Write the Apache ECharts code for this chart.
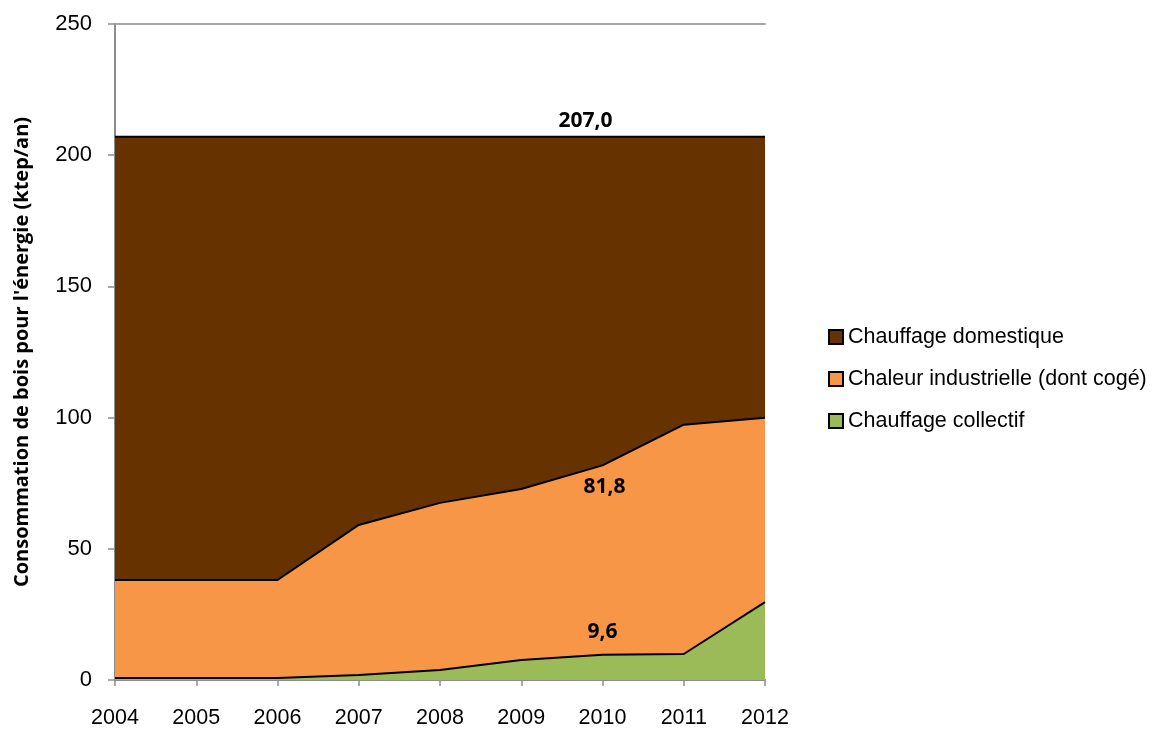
<!DOCTYPE html>
<html>
<head>
<meta charset="utf-8">
<script src="https://cdn.jsdelivr.net/npm/echarts@6/dist/echarts.min.js"></script>
<style>html,body{margin:0;padding:0;background:#fff}#c{width:1158px;height:729px}</style>
</head>
<body>
<div id="c"></div>
<script>
const years = ['2004','2005','2006','2007','2008','2009','2010','2011','2012'];
const collectif = [0.8, 0.8, 0.8, 1.9, 3.8, 7.6, 9.6, 9.9, 29.7];
const industrielle = [37.3, 37.3, 37.3, 57.2, 63.7, 65.2, 72.2, 87.4, 70.2];
const domestique = [168.9, 168.9, 168.9, 147.9, 139.5, 134.2, 125.2, 109.7, 107.1];
const names = ['Chauffage collectif', 'Chaleur industrielle (dont cogé)', 'Chauffage domestique'];
const labelIndex = 6;
const labelTexts = ['9,6', '81,8', '207,0'];
const colors = ['#9BBB59', '#F79646', '#663300'];
const yTicks = [0, 50, 100, 150, 200, 250];

const chart = echarts.init(document.getElementById('c'));
const labelCfg = [
  {position: 'top', distance: 12, offset: [0, 0]},
  {position: 'bottom', distance: 11, offset: [2, 0]},
  {position: 'top', distance: 5, offset: [-17, 0]}
];
function mk(vals, i) {
  return {
    name: names[i],
    type: 'line',
    stack: 'total',
    data: vals.map((v, j) => j === labelIndex ? {
      value: v,
      label: Object.assign({
        show: true, formatter: labelTexts[i],
        fontFamily: 'Open Sans', fontWeight: 'bold', fontSize: 21, color: '#000'
      }, labelCfg[i])
    } : v),
    showSymbol: true,
    symbol: 'circle',
    symbolSize: 0,
    lineStyle: {color: '#000', width: 2},
    itemStyle: {color: colors[i], borderColor: '#000', borderWidth: 1},
    areaStyle: {color: colors[i], opacity: 1},
    z: 6 - i,
    animation: false
  };
}
chart.setOption({
  animation: false,
  textStyle: {fontFamily: 'Liberation Sans'},
  grid: {left: 115, right: 393, top: 24, bottom: 49},
  legend: {
    orient: 'vertical',
    left: 823, top: 321,
    itemGap: 20,
    itemWidth: 14, itemHeight: 14,
    icon: 'rect',
    data: [names[2], names[1], names[0]],
    textStyle: {fontSize: 21.5, color: '#000', fontFamily: 'Liberation Sans', padding: [0, 0, 0, 0]}
  },
  xAxis: [{
    type: 'category',
    data: years,
    boundaryGap: false,
    axisLine: {lineStyle: {color: '#8c8c8c', width: 2}},
    axisTick: {show: true, length: 6, lineStyle: {color: '#8c8c8c', width: 1.5}},
    axisLabel: {fontSize: 21.5, color: '#000', margin: 27, fontFamily: 'Liberation Sans'},
    splitLine: {show: false}
  }, {
    type: 'category',
    data: years,
    boundaryGap: false,
    position: 'top',
    axisLine: {lineStyle: {color: '#a6a6a6', width: 2}},
    axisTick: {show: false},
    axisLabel: {show: false}
  }],
  yAxis: {
    type: 'value',
    min: 0, max: 250, interval: 50,
    name: "Consommation de bois pour l'énergie (ktep/an)",
    nameLocation: 'middle',
    nameGap: 83,
    nameRotate: 90,
    nameTextStyle: {fontFamily: 'Open Sans', fontWeight: 'bold', fontSize: 20, color: '#000'},
    axisLine: {show: true, lineStyle: {color: '#8c8c8c', width: 2}},
    axisTick: {show: true, length: 7, lineStyle: {color: '#8c8c8c', width: 1.5}},
    axisLabel: {fontSize: 22, color: '#000', margin: 23, fontFamily: 'Liberation Sans',
      formatter: v => yTicks.includes(v) ? String(v) : ''},
    splitLine: {show: false}
  },
  series: [mk(collectif, 0), mk(industrielle, 1), mk(domestique, 2)]
});
</script>
</body>
</html>
